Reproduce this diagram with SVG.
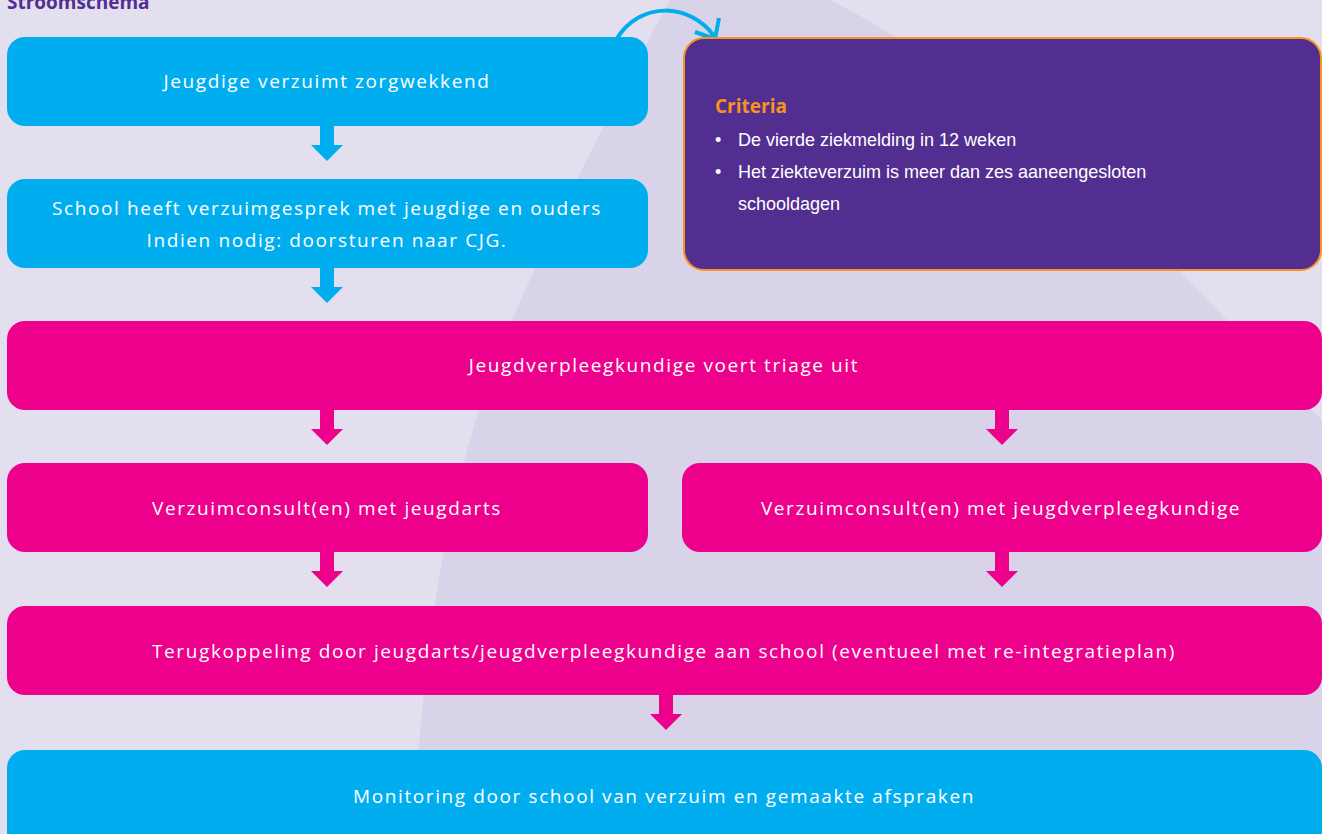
<svg xmlns="http://www.w3.org/2000/svg" width="1322" height="834" viewBox="0 0 1322 834">
<defs>
<style>
.cyan{fill:#00AEEF}
.pink{fill:#EC008C}
.t{font-family:"Open Sans","Lato",sans-serif;font-size:19px;letter-spacing:1.6px;fill:#ffffff;text-anchor:middle}
.ca{fill:#00AEEF}
.pa{fill:#EC008C}
.crit{font-family:"Liberation Sans",Arial,sans-serif;font-size:18px;fill:#ffffff}
</style>
<polygon id="arr" points="-7,0 7,0 7,19 16,19 0,35 -16,19 -7,19"/>
</defs>
<rect x="0" y="0" width="1322" height="834" fill="#E3DFEE"/>
<path d="M670,0 C600,130 540,250 500,350 C450,480 425,620 413,834 L1322,834 L1322,420 C1270,370 1220,310 1180,272 C1060,160 950,60 830,0 Z" fill="#D8D3E8"/>
<text x="7" y="9" font-family="Open Sans, Lato, sans-serif" font-size="19" font-weight="bold" fill="#522E91">Stroomschema</text>
<g id="connectors">
<use href="#arr" x="327" y="126" class="ca"/>
<use href="#arr" x="327" y="268" class="ca"/>
<use href="#arr" x="327" y="410" class="pa"/>
<use href="#arr" x="1002" y="410" class="pa"/>
<use href="#arr" x="327" y="552" class="pa"/>
<use href="#arr" x="1002" y="552" class="pa"/>
<use href="#arr" x="666" y="695" class="pa"/>
<path d="M616,40 C640,0 690,3 714,36" fill="none" stroke="#00AEEF" stroke-width="4"/>
<path d="M695,32 L715,39 L719,18" fill="none" stroke="#00AEEF" stroke-width="4"/>
</g>
<g id="n1"><rect x="7" y="37" width="641" height="89" rx="18" class="cyan"/><text x="327" y="88" class="t">Jeugdige verzuimt zorgwekkend</text></g>
<g id="n2"><rect x="7" y="179" width="641" height="89" rx="18" class="cyan"/><text x="327" y="215" class="t">School heeft verzuimgesprek met jeugdige en ouders</text><text x="327" y="247" class="t">Indien nodig: doorsturen naar CJG.</text></g>
<g id="criteria"><rect x="684" y="38" width="637" height="232" rx="20" fill="#522E91" stroke="#F7941D" stroke-width="2"/>
<text x="715" y="113" font-family="Open Sans, Lato, sans-serif" font-size="19" font-weight="bold" fill="#F7941D">Criteria</text>
<text x="715" y="146" class="crit">•</text><text x="738" y="146" class="crit">De vierde ziekmelding in 12 weken</text>
<text x="715" y="178" class="crit">•</text><text x="738" y="178" class="crit">Het ziekteverzuim is meer dan zes aaneengesloten</text>
<text x="738" y="210" class="crit">schooldagen</text></g>
<g id="n3"><rect x="7" y="321" width="1315" height="89" rx="18" class="pink"/><text x="664" y="372" class="t">Jeugdverpleegkundige voert triage uit</text></g>
<g id="n4"><rect x="7" y="463" width="641" height="89" rx="18" class="pink"/><text x="327" y="515" class="t">Verzuimconsult(en) met jeugdarts</text></g>
<g id="n5"><rect x="682" y="463" width="640" height="89" rx="18" class="pink"/><text x="1001" y="515" class="t">Verzuimconsult(en) met jeugdverpleegkundige</text></g>
<g id="n6"><rect x="7" y="606" width="1315" height="89" rx="18" class="pink"/><text x="664" y="658" class="t">Terugkoppeling door jeugdarts/jeugdverpleegkundige aan school (eventueel met re-integratieplan)</text></g>
<g id="n7"><rect x="7" y="750" width="1315" height="100" rx="18" class="cyan"/><text x="664" y="803" class="t">Monitoring door school van verzuim en gemaakte afspraken</text></g>
</svg>
